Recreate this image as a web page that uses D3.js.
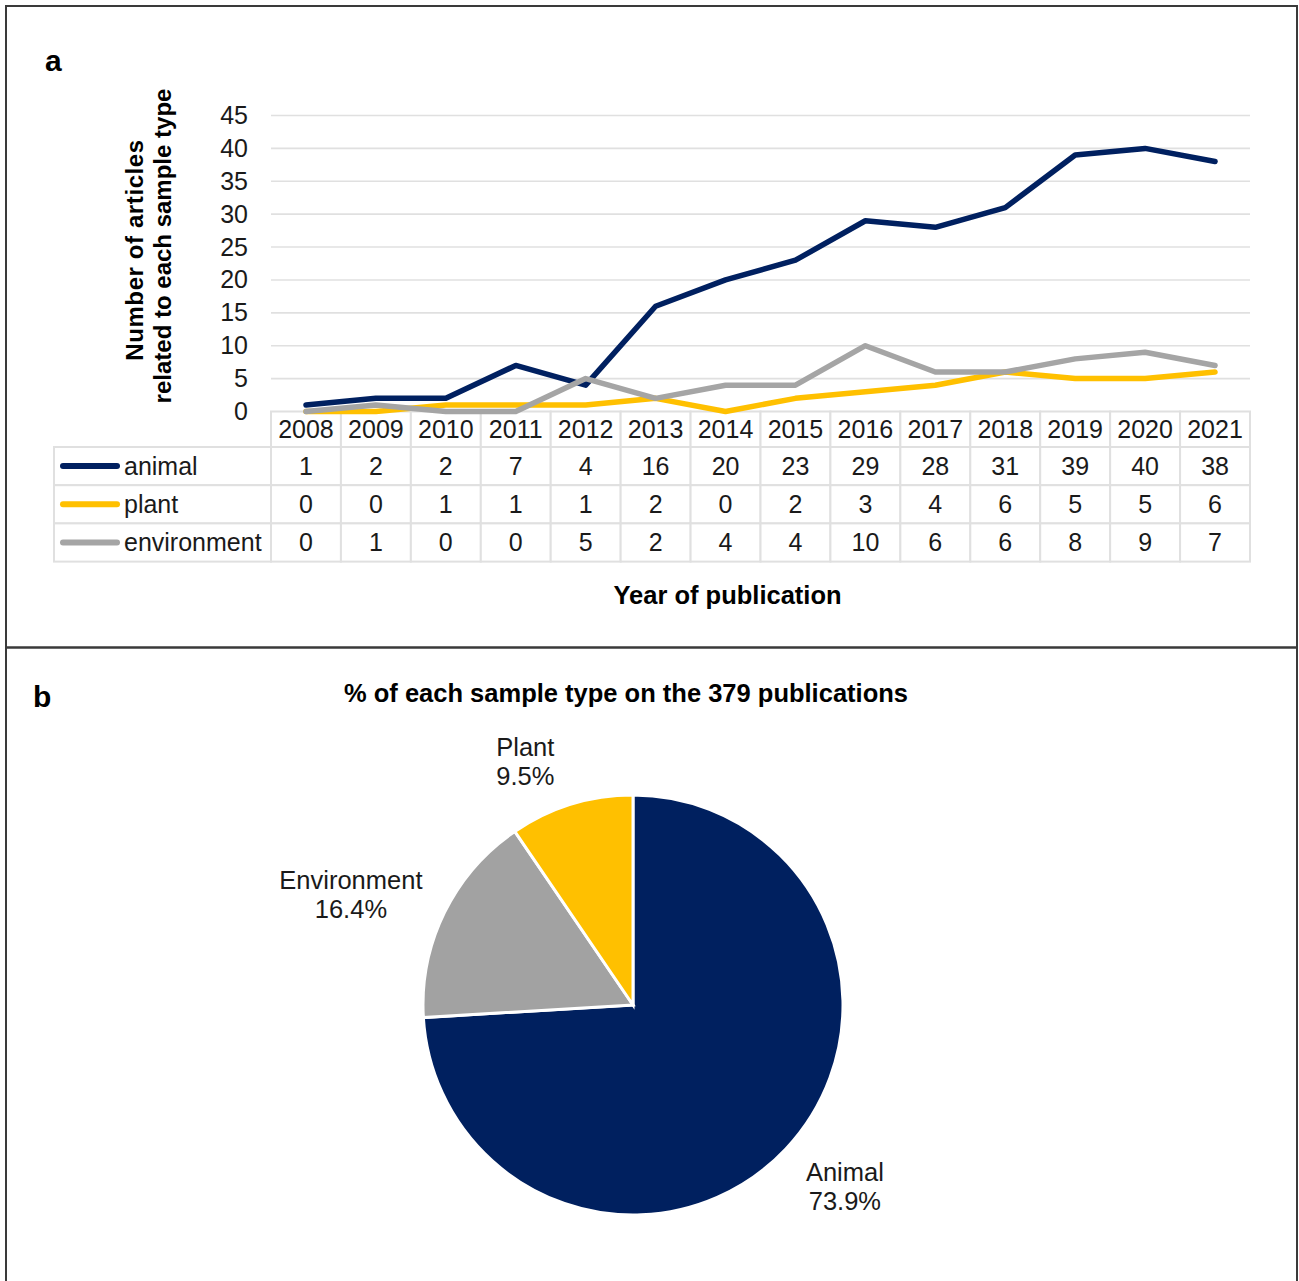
<!DOCTYPE html>
<html>
<head>
<meta charset="utf-8">
<script src="https://cdn.jsdelivr.net/npm/d3@7"></script>
<style>
  html, body { margin: 0; padding: 0; background: #fff; }
  svg { display: block; font-family: "Liberation Sans", Arial, Helvetica, sans-serif; }
</style>
</head>
<body>
<svg id="fig" width="1299" height="1281"></svg>
<script>
// ---- data ----
const years = ["2008","2009","2010","2011","2012","2013","2014","2015","2016","2017","2018","2019","2020","2021"];
const animal = [1, 2, 2, 7, 4, 16, 20, 23, 29, 28, 31, 39, 40, 38];
const plant = [0, 0, 1, 1, 1, 2, 0, 2, 3, 4, 6, 5, 5, 6];
const environment = [0, 1, 0, 0, 5, 2, 4, 4, 10, 6, 6, 8, 9, 7];
const seriesNames = ["animal", "plant", "environment"];
const yTicks = [0, 5, 10, 15, 20, 25, 30, 35, 40, 45];

const pieNames = ["Animal", "Environment", "Plant"];
const pieShares = [73.9, 16.4, 9.5];

// ---- styles ----
const colors = { animal: "#002060", plant: "#FFC000", environment: "#A5A5A5" };
const pieColors = ["#00205F", "#A2A2A2", "#FFC000"];
const textColor = "#1a1a1a";
const gridColor = "#e0e0e0";

const svg = d3.select("#fig");

// panel frames
svg.append("rect").attr("x", 6).attr("y", 6).attr("width", 1291).attr("height", 1300)
  .attr("fill", "none").attr("stroke", "#3a3a3a").attr("stroke-width", 2);
svg.append("line").attr("x1", 6).attr("x2", 1297).attr("y1", 647.5).attr("y2", 647.5)
  .attr("stroke", "#3a3a3a").attr("stroke-width", 2.5);

// panel letters
svg.append("text").attr("x", 45).attr("y", 71).text("a")
  .attr("font-size", 30).attr("font-weight", "bold").attr("fill", "#000");
svg.append("text").attr("x", 33).attr("y", 707).text("b")
  .attr("font-size", 30).attr("font-weight", "bold").attr("fill", "#000");

// ================= panel a: line chart with data table =================
const plotLeft = 271, plotRight = 1250, plotTop = 115.5, plotBottom = 411.5;
const x = d3.scaleBand().domain(years).range([plotLeft, plotRight]).paddingInner(0).paddingOuter(0);
const xc = yr => x(yr) + x.bandwidth() / 2;
const y = d3.scaleLinear().domain([0, 45]).range([plotBottom, plotTop]);

// gridlines
svg.append("g").selectAll("line").data(yTicks.filter(t => t > 0)).join("line")
  .attr("x1", plotLeft).attr("x2", plotRight)
  .attr("y1", d => y(d)).attr("y2", d => y(d))
  .attr("stroke", gridColor).attr("stroke-width", 1.6);

// y axis labels
const yAxis = d3.axisLeft(y).tickValues(yTicks).tickSize(0).tickPadding(23);
const gy = svg.append("g").attr("transform", `translate(${plotLeft},0)`).call(yAxis);
gy.select(".domain").remove();
gy.selectAll("text").attr("font-size", 25).attr("fill", textColor)
  .attr("font-family", "'Liberation Sans', Arial, sans-serif");

// y axis title (two lines, rotated)
const yTitle = svg.append("g").attr("font-size", 24).attr("font-weight", "bold").attr("fill", "#000");
yTitle.append("text").attr("transform", "translate(143,250) rotate(-90)")
  .attr("text-anchor", "middle").attr("letter-spacing", 0.6).text("Number of articles");
yTitle.append("text").attr("transform", "translate(171,246) rotate(-90)")
  .attr("text-anchor", "middle").text("related to each sample type");

// data table
const headerTop = 411.5, headerH = 35.5, rowH = 38.2, legendLeft = 54;
const tableRows = [animal, plant, environment];
const tbl = svg.append("g");
// header cells (years)
tbl.selectAll("rect.hdr").data(years).join("rect").attr("class", "hdr")
  .attr("x", d => x(d)).attr("y", headerTop).attr("width", x.bandwidth()).attr("height", headerH)
  .attr("fill", "#fff").attr("stroke", gridColor).attr("stroke-width", 2);
tbl.selectAll("text.hdr").data(years).join("text").attr("class", "hdr")
  .attr("x", d => xc(d)).attr("y", headerTop + 26.5).attr("text-anchor", "middle")
  .attr("font-size", 25).attr("fill", textColor).text(d => d);

tableRows.forEach((vals, i) => {
  const top = headerTop + headerH + i * rowH;
  const name = seriesNames[i];
  // legend cell
  tbl.append("rect").attr("x", legendLeft).attr("y", top).attr("width", plotLeft - legendLeft).attr("height", rowH)
    .attr("fill", "#fff").attr("stroke", gridColor).attr("stroke-width", 2);
  tbl.append("line").attr("x1", 63).attr("x2", 117).attr("y1", top + rowH / 2).attr("y2", top + rowH / 2)
    .attr("stroke", colors[name]).attr("stroke-width", 6).attr("stroke-linecap", "round");
  tbl.append("text").attr("x", 124).attr("y", top + 28).attr("font-size", 25).attr("fill", textColor).text(name);
  // value cells
  tbl.selectAll(null).data(years).join("rect")
    .attr("x", d => x(d)).attr("y", top).attr("width", x.bandwidth()).attr("height", rowH)
    .attr("fill", "#fff").attr("stroke", gridColor).attr("stroke-width", 2);
  tbl.selectAll(null).data(vals).join("text")
    .attr("x", (d, j) => xc(years[j])).attr("y", top + 28).attr("text-anchor", "middle")
    .attr("font-size", 25).attr("fill", textColor).text(d => d);
});

// series lines
const line = d3.line().x((d, i) => xc(years[i])).y(d => y(d));
const seriesData = { animal, plant, environment };
seriesNames.forEach(name => {
  svg.append("path").datum(seriesData[name]).attr("d", line)
    .attr("fill", "none").attr("stroke", colors[name]).attr("stroke-width", 5.5)
    .attr("stroke-linejoin", "round").attr("stroke-linecap", "round");
});

// x axis title
svg.append("text").attr("x", (plotLeft + plotRight) / 2 - 33).attr("y", 604)
  .attr("text-anchor", "middle").attr("font-size", 25.5).attr("font-weight", "bold").attr("fill", "#000")
  .text("Year of publication");

// ================= panel b: pie chart =================
svg.append("text").attr("x", 626).attr("y", 702).attr("text-anchor", "middle")
  .attr("font-size", 25.5).attr("font-weight", "bold").attr("fill", "#000")
  .text("% of each sample type on the 379 publications");

const cx = 633, cy = 1005, R = 210;
const pie = d3.pie().sort(null).value(d => d)(pieShares);
const arc = d3.arc().innerRadius(0).outerRadius(R);
const gp = svg.append("g").attr("transform", `translate(${cx},${cy})`);
gp.selectAll("path").data(pie).join("path")
  .attr("d", arc).attr("fill", (d, i) => pieColors[i])
  .attr("stroke", "#fff").attr("stroke-width", 3).attr("stroke-linejoin", "miter");

// outside labels: box placed just beyond the rim along the slice's mid-angle
const labelR = 228, lineH = 29;
const labelNudge = [[15, 5], [-9, 3], [-30, 2]];
pie.forEach((d, i) => {
  const a = (d.startAngle + d.endAngle) / 2;
  const sx = Math.sin(a), sy = -Math.cos(a);
  const lines = [pieNames[i], d3.format(".1f")(pieShares[i]) + "%"];
  const halfW = Math.max(...lines.map(s => s.length)) * 13.5 / 2 + 2;
  const halfH = lineH;
  const px = sx * labelR + sx * halfW + labelNudge[i][0];
  const py = sy * labelR + sy * halfH + labelNudge[i][1];
  const t = gp.append("text").attr("text-anchor", "middle").attr("font-size", 25.5).attr("fill", textColor);
  lines.forEach((s, k) => {
    t.append("tspan").attr("x", px).attr("y", py - lineH / 2 + 9 + k * lineH).text(s);
  });
});
</script>
</body>
</html>
